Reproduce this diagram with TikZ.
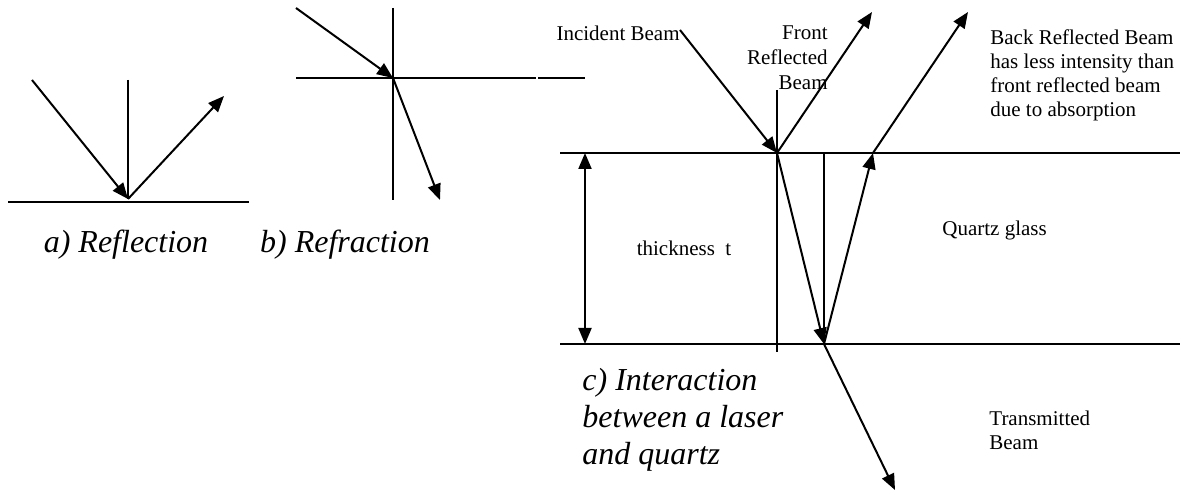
\documentclass[tikz,border=0pt]{standalone}
\usepackage{fontspec}
\setmainfont{Liberation Serif}
\usetikzlibrary{arrows.meta}

\tikzset{
  tip/.tip={Triangle[length=8pt,width=6.5pt]},
  ray/.style={line width=1pt,-tip},
  surface/.style={line width=1pt},
  note/.style={font=\fontsize{10.5}{12}\selectfont,align=left,inner sep=0pt},
  caption/.style={font=\fontsize{16}{18.5}\selectfont\itshape,align=left,inner sep=0pt},
}

\begin{document}
\begin{tikzpicture}[x=0.5pt,y=-0.5pt]
  \useasboundingbox (0,0) rectangle (1180,491);

  % a) reflection at a mirror
  \coordinate (aLeft) at (8,202);
  \coordinate (aRight) at (249,202);
  \coordinate (aTop) at (128,80);
  \coordinate (aHit) at (128,199);
  \coordinate (aIn) at (32,80);
  \coordinate (aOut) at (224,96);
  \draw[surface] (aLeft) -- (aRight);
  \draw[surface] (aTop) -- (aHit);
  \draw[ray] (aIn) -- (aHit);
  \draw[ray] (aHit) -- (aOut);
  \node[caption] (capA) at (126,245) {a) Reflection};

  % b) refraction
  \coordinate (bTop) at (393,8);
  \coordinate (bBottom) at (393,200);
  \coordinate (bLeft) at (296,78);
  \coordinate (bGap) at (536,78);
  \coordinate (bGapEnd) at (538,78);
  \coordinate (bRight) at (585,78);
  \coordinate (bHit) at (393,78);
  \coordinate (bIn) at (296,8);
  \coordinate (bOut) at (440,200);
  \draw[surface] (bTop) -- (bBottom);
  \draw[surface] (bLeft) -- (bGap);
  \draw[surface] (bGapEnd) -- (bRight);
  \draw[ray] (bIn) -- (bHit);
  \draw[ray] (bHit) -- (bOut);
  \node[caption] (capB) at (345,245) {b) Refraction};

  % c) laser beam through a quartz plate
  \coordinate (topL) at (560,153);
  \coordinate (topR) at (1180,153);
  \coordinate (botL) at (560,344);
  \coordinate (botR) at (1180,344);
  \draw[surface] (topL) -- (topR);
  \draw[surface] (botL) -- (botR);

  \coordinate (thkTop) at (585,153);
  \coordinate (thkBot) at (585,344);
  \draw[ray,tip-tip] (thkTop) -- (thkBot);
  \node[note] (thk) at (684,248) {thickness\ \ t};

  \coordinate (hitF) at (777,153);
  \coordinate (hitB) at (824,344);
  \coordinate (exitB) at (873,153);
  \coordinate (normF) at (777,90);
  \coordinate (normFend) at (777,352);
  \coordinate (normB) at (824,153);
  \draw[surface] (normF) -- (normFend);
  \draw[surface] (normB) -- (hitB);

  \coordinate (incStart) at (680,30);
  \coordinate (frontEnd) at (872,12);
  \coordinate (backEnd) at (968,12);
  \coordinate (transEnd) at (895,490);
  \draw[ray] (incStart) -- (hitF);
  \draw[ray] (hitF) -- (frontEnd);
  \draw[ray] (hitF) -- (hitB);
  \draw[ray] (hitB) -- (exitB);
  \draw[ray] (exitB) -- (backEnd);
  \draw[ray] (hitB) -- (transEnd);

  \node[note,anchor=east] (inc) at (680,33) {Incident Beam};
  \node[note,anchor=east,align=right,font=\fontsize{10.5}{12.5}\selectfont] (front) at (828,58) {Front\\Reflected\\Beam};
  \node[note,anchor=west] (back) at (990,75) {Back Reflected Beam\\has less intensity than\\front reflected beam\\due to absorption};
  \node[note,anchor=west] (quartz) at (942,230) {Quartz glass};
  \node[note,anchor=west] (trans) at (989,430) {Transmitted\\Beam};
  \node[caption,anchor=west] (capC) at (582,420) {c) Interaction\\between a laser\\and quartz};
\end{tikzpicture}
\end{document}
